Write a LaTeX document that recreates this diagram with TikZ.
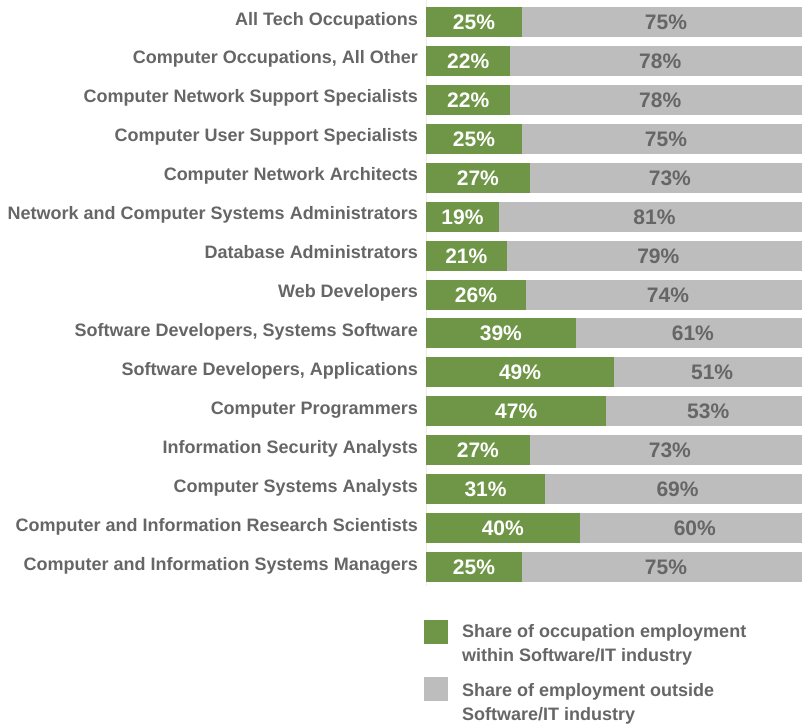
\documentclass[tikz,border=0pt]{standalone}
\usepackage{fontspec}
\setmainfont{Liberation Sans}
\definecolor{grn}{HTML}{6E9646}
\definecolor{gry}{HTML}{BDBDBD}
\definecolor{txt}{HTML}{666666}
\definecolor{axis}{HTML}{EBEBEB}
\tikzset{
  rowlabel/.style={anchor=base east, text=txt, font=\fontsize{18}{21}\selectfont\bfseries, inner sep=0pt},
  pin/.style={anchor=base, text=white, font=\fontsize{21}{24}\selectfont\bfseries, inner sep=0pt},
  pout/.style={anchor=base, text=txt, font=\fontsize{21}{24}\selectfont\bfseries, inner sep=0pt},
  legtext/.style={anchor=north west, text=txt, font=\fontsize{18}{24}\selectfont\bfseries, align=left, inner sep=0pt},
}
\begin{document}
\begin{tikzpicture}[x=1pt,y=-1pt]
\useasboundingbox (0,0) rectangle (802,726);
\fill[white] (0,0) rectangle (802,726);
\begin{scope}
\clip (0,0) rectangle (802,726);
\draw[axis, line width=0.8pt] (426.5,0) -- (426.5,586);
\foreach \i/\lab/\p in {
 0/{All Tech Occupations}/25,
 1/{Computer Occupations, All Other}/22,
 2/{Computer Network Support Specialists}/22,
 3/{Computer User Support Specialists}/25,
 4/{Computer Network Architects}/27,
 5/{Network and Computer Systems Administrators}/19,
 6/{Database Administrators}/21,
 7/{Web Developers}/26,
 8/{Software Developers, Systems Software}/39,
 9/{Software Developers, Applications}/49,
 10/{Computer Programmers}/47,
 11/{Information Security Analysts}/27,
 12/{Computer Systems Analysts}/31,
 13/{Computer and Information Research Scientists}/40,
 14/{Computer and Information Systems Managers}/25}{
  \pgfmathsetmacro{\yc}{22+38.93*\i}
  \pgfmathsetmacro{\xs}{426+3.84*\p}
  \pgfmathtruncatemacro{\q}{100-\p}
  \fill[grn] (426,\yc-15) rectangle (\xs,\yc+15);
  \fill[gry] (\xs,\yc-15) rectangle (810,\yc+15);
  \node[rowlabel] (lab\i) at (418,\yc+3) {\lab};
  \node[pin] (in\i) at ({(426+\xs)/2},\yc+7.5) {\p\%};
  \node[pout] (out\i) at ({(\xs+810)/2},\yc+7.5) {\q\%};
}
\end{scope}
\fill[grn] (424,620) rectangle (448,644);
\fill[gry] (424,677) rectangle (448,701);
\node[legtext] (leg1) at (462,624) {Share of occupation employment\\within Software/IT industry};
\node[legtext] (leg2) at (462,683) {Share of employment outside\\Software/IT industry};
\end{tikzpicture}
\end{document}
